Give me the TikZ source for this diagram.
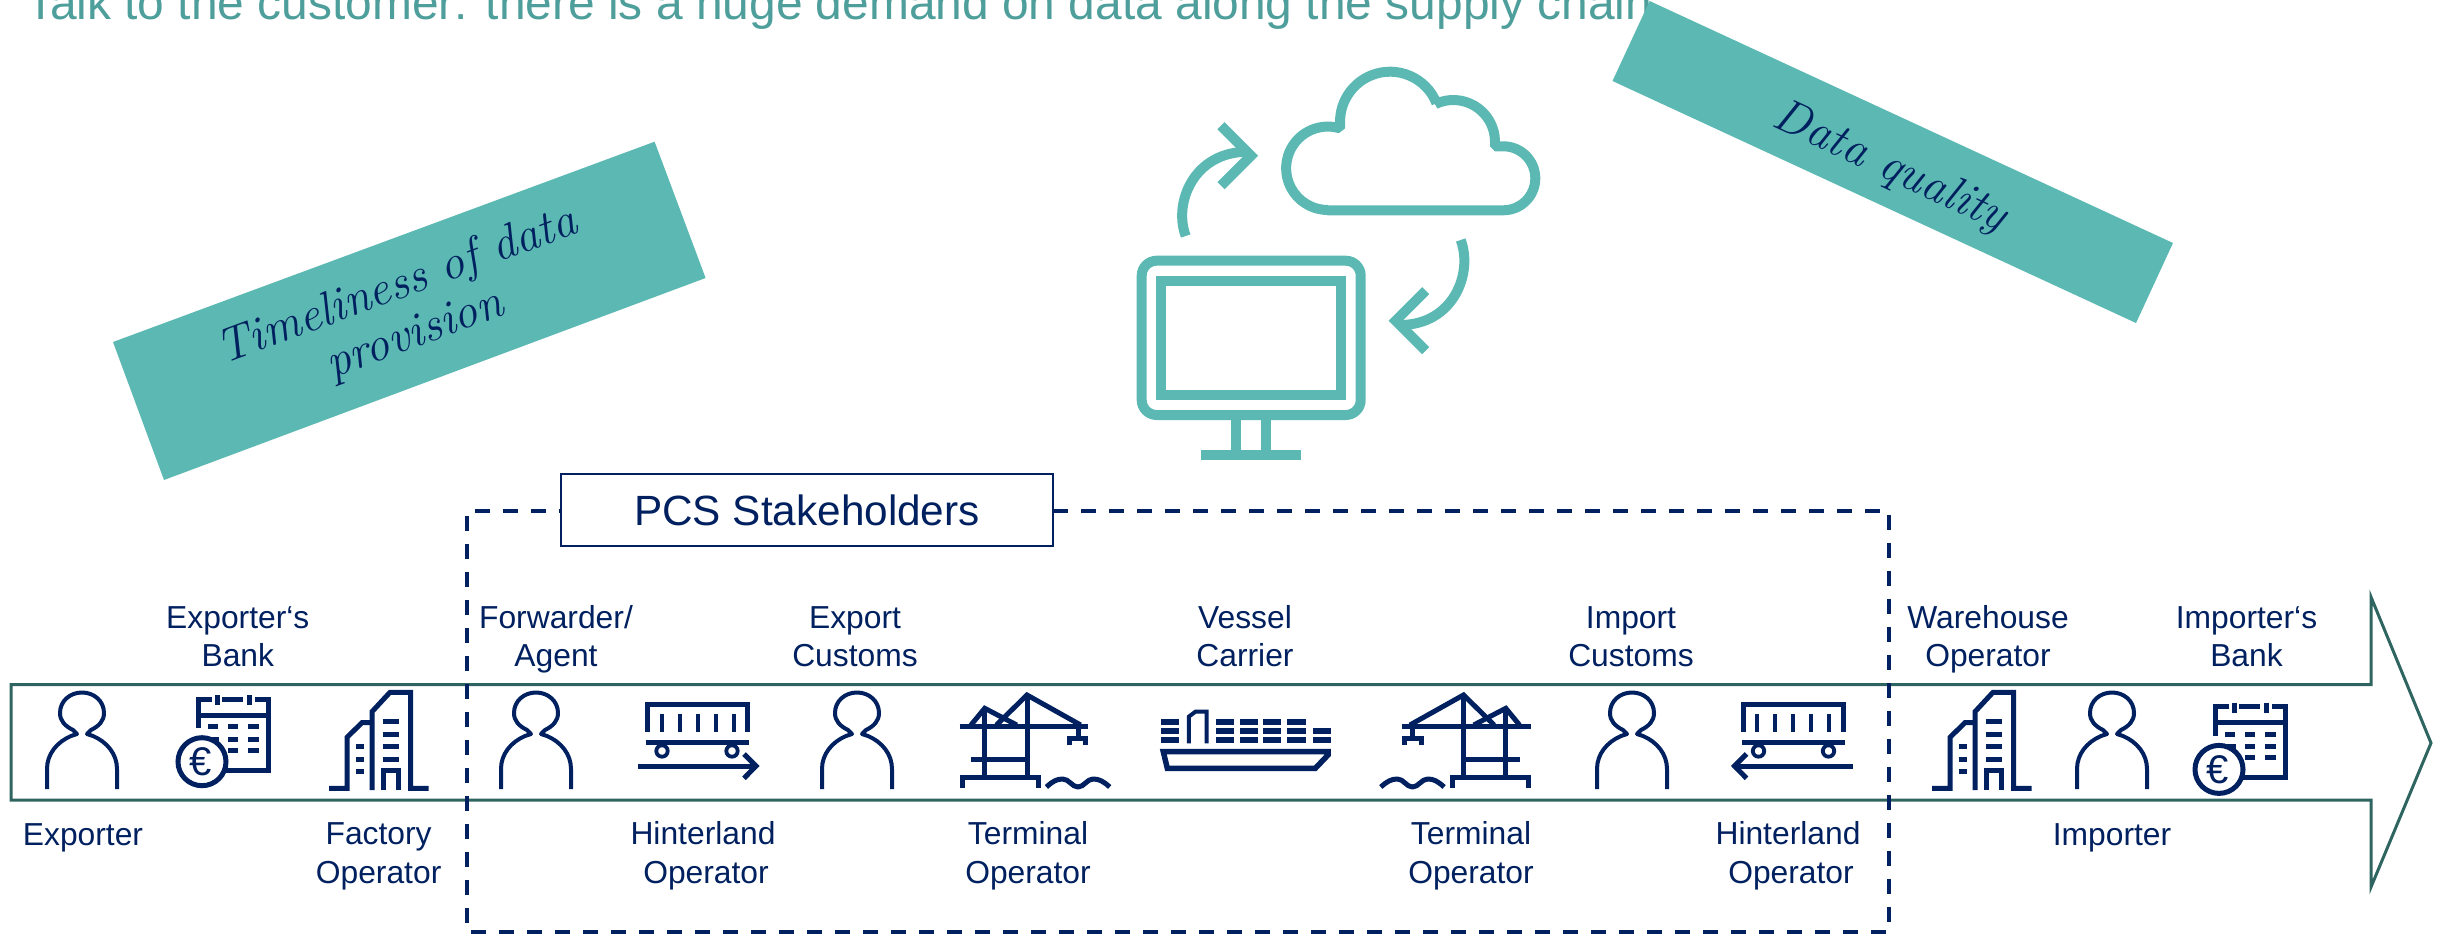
\documentclass[tikz,border=0pt]{standalone}
\usepackage{fontspec}
\setsansfont{Liberation Sans}
\newfontfamily\arialfont{Liberation Sans}
\definecolor{navy}{HTML}{00205F}
\definecolor{teal1}{HTML}{5CB8B2}
\definecolor{titlec}{HTML}{4E9F9B}
\definecolor{chev}{HTML}{2F6560}
\tikzset{
  lab/.style={text=navy,align=center,anchor=base,inner sep=0pt,font=\arialfont\fontsize{31.8}{38.5}\selectfont},
  note/.style={text=navy,align=center,inner sep=0pt,font=\itshape\fontsize{48}{51}\selectfont},
  banner/.style={fill=teal1,draw=none},
  ink/.style={draw=navy,line width=5pt,line cap=butt,line join=miter,fill=none},
  thinink/.style={draw=navy,line width=4pt,line cap=butt,line join=round,fill=none},
  tealink/.style={draw=teal1,line width=10pt,line cap=butt,line join=miter,fill=none},
  pics/person/.style={code={
    \draw[thinink] (-35,97) -- (-35,77) .. controls (-35,62) and (-25,50) .. (-11,44) -- (-5,42) -- (-9,38)
      .. controls (-17,34) and (-22,29) .. (-22,21) .. controls (-22,9) and (-12,0.5) .. (0,0.5)
      .. controls (12,0.5) and (22,9) .. (22,21) .. controls (22,29) and (17,34) .. (9,38)
      -- (5,42) -- (11,44) .. controls (25,50) and (35,62) .. (35,77) -- (35,97);
  }},
  pics/bank/.style={code={
    \draw[ink] (212,699) -- (198,699) -- (198,728);
    \draw[ink] (198,715) -- (268,715);
    \draw[ink] (222,699) -- (243.4,699);
    \draw[ink] (255,699) -- (268,699) -- (268,770) -- (224.5,770);
    \draw[ink] (217,695) -- (217,705);
    \draw[ink] (249,695) -- (249,705);
    \foreach \yy in {726.7,739,750} {
      \draw[ink] (228,\yy) -- (238,\yy);
      \draw[ink] (248,\yy) -- (258.7,\yy);
    }
    \draw[ink] (208,726.7) -- (218,726.7);
    \draw[ink] (208,739) -- (219,739);
    \draw[ink,fill=white] (202,761.7) circle[radius=24];
    \node[inner sep=0pt,text=navy,font=\arialfont\fontsize{40}{40}\selectfont] at (200.5,762) {€};
  }},
  pics/tower/.style={code={
    \draw[ink] (329,788.3) -- (347,788.3) -- (347,737.3) -- (362,722.7) -- (371,722.7);
    \draw[ink] (372,790) -- (372,711.7) -- (390,692.3) -- (410.7,692.3) -- (410.7,788.3) -- (428.6,788.3);
    \draw[ink] (383.7,790) -- (383.7,770.7) -- (398,770.7) -- (398,790);
    \foreach \yy in {721.7,734,746,759} \draw[ink] (382.6,\yy) -- (399,\yy);
    \foreach \yy in {746.7,759,771} \draw[ink] (355.6,\yy) -- (363.8,\yy);
  }},
  pics/wagon/.style={code={
    \draw[ink] (647,731.7) -- (647,704) -- (747.4,704) -- (747.4,731.7);
    \draw[ink] (645.5,742.7) -- (749,742.7);
    \foreach \xx in {662,680,698,716,733.7} \draw[ink,line width=4pt] (\xx,714) -- (\xx,731.7);
    \draw[ink,line width=3.8pt] (662,751) circle[radius=5.7];
    \draw[ink,line width=3.8pt] (732,751) circle[radius=5.7];
    \draw[ink] (637.8,766) -- (755,766);
    \draw[ink] (744,754) -- (756,766) -- (744,778.3);
  }},
  pics/crane/.style={code={
    \draw[ink] (1027,695) -- (1027,777);
    \draw[ink] (984.7,708.3) -- (984.7,777);
    \draw[ink] (959.7,726.7) -- (1088.3,726.7);
    \draw[ink] (971,725) -- (984.7,708.3) -- (1016.8,725);
    \draw[ink] (996.4,725) -- (1027,695) -- (1080.6,725);
    \draw[ink] (971,759) -- (1027,759);
    \draw[ink] (962.2,788.3) -- (962.2,777.3) -- (1038.3,777.3) -- (1038.3,788.3);
    \draw[ink] (1078,727) -- (1078,738);
    \draw[ink] (1069.4,745) -- (1069.4,738.3) -- (1085.7,738.3) -- (1085.7,745);
    \draw[ink,line join=round] (1046.4,787) .. controls (1053,781) and (1057,779) .. (1062.8,779)
      .. controls (1069,779) and (1072,787) .. (1078,787) .. controls (1084,787) and (1087,779) .. (1093,779)
      .. controls (1099,779) and (1103,781) .. (1109.7,787);
  }},
}
\begin{document}
\begin{tikzpicture}[x=1pt,y=-1pt]
\useasboundingbox (0,0) rectangle (2445,934);
\clip (0,0) rectangle (2445,934);
% title
\node[anchor=base west,inner sep=0pt,text=titlec,font=\arialfont\fontsize{47.9}{50}\selectfont] (title) at (26,20)
  {Talk to the customer: there is a huge demand on data along the supply chain};
% banners
\path[banner] (654.6,141.7) -- (705.6,278) -- (164,480) -- (113,342) -- cycle;
\path[banner] (1649.6,1) -- (2173,243) -- (2136,323) -- (1612.5,81) -- cycle;
\node[note,rotate=20.3] (timeliness) at (406,311) {Timeliness of data\\provision};
\node[note,rotate=-24.8] (quality) at (1890,168) {Data quality};
% cloud & monitor
\draw[tealink,line join=bevel] (1327.3,210.3) -- (1503.3,210.3) arc[start angle=90,end angle=-90,radius=32]
  -- (1495,146.3) -- (1495,141.7) arc[start angle=0,end angle=-115,radius=41.7]
  -- (1436.5,103.2) arc[start angle=-21.7,end angle=-180,radius=50]
  -- (1340,128.4) arc[start angle=-73,end angle=-270,radius=41.7] -- cycle;
\draw[tealink,rounded corners=15pt] (1141.7,260.7) rectangle (1360.7,415);
\draw[tealink] (1161,280.7) rectangle (1340.7,395.3);
\draw[tealink] (1236,415) -- (1236,455);
\draw[tealink] (1266,415) -- (1266,455);
\draw[tealink] (1201,455) -- (1301,455);
\draw[tealink] (1185.7,236) .. controls (1173.3,203.3) and (1193.3,151.7) .. (1248,151.7);
\draw[tealink] (1221,125.7) -- (1251,155.7) -- (1221,185.7);
\draw[tealink] (1460.7,240) .. controls (1473.3,273.3) and (1453.3,325) .. (1400,325);
\draw[tealink] (1425.7,290.7) -- (1395.7,320.7) -- (1425.7,350.7);
% chevron
\draw[chev,line width=3pt,line join=miter] (11,684.5) -- (2371,684.5) -- (2371,597) -- (2431,743) -- (2371,887) -- (2371,800) -- (11,800) -- cycle;
% dashed frame
\draw[navy,line width=4pt,dash pattern=on 15pt off 13pt] (1053,511) -- (1889,511) -- (1889,932) -- (467,932) -- (467,511) -- (561,511);
\node[draw=navy,line width=2pt,fill=white,minimum width=492pt,minimum height=72pt,inner sep=0pt,text=navy,
  font=\arialfont\fontsize{42.3}{46}\selectfont] (pcs) at (807,510) {PCS Stakeholders};
% icons
\pic at (82,692) {person};
\pic at (536,692) {person};
\pic at (857,692) {person};
\pic at (1632,692) {person};
\pic at (2112,692) {person};
\pic at (0,0) {bank};
\pic at (2017,7.7) {bank};
\pic at (0,0) {tower};
\pic at (1603,0) {tower};
\pic at (0,0) {wagon};
\pic[xscale=-1] at (2490.5,0) {wagon};
\pic at (0,0) {crane};
\pic[xscale=-1] at (2490.5,0) {crane};
% ship
\draw[ink,line width=5.5pt] (1163.3,751.7) -- (1328,751.7) -- (1328,755) -- (1315.3,768.3) -- (1167.3,768.3) -- cycle;
\draw[ink,line width=4pt] (1188.8,743.3) -- (1188.8,716.7) -- (1195.4,711.7) -- (1206.6,711.7) -- (1206.6,743.3);
\foreach \a/\b in {1160.7/1178.6,1215.8/1233.7,1239.8/1257.7,1263.3/1281.1,1287.2/1306.1} {
  \foreach \yy in {722.3,731,740.3} \fill[navy] (\a,\yy-2.9) rectangle (\b,\yy+2.9);
}
\foreach \yy in {731,740.3} \fill[navy] (1312.8,\yy-2.9) rectangle (1330.6,\yy+2.9);
% labels
\node[lab] (l1) at (237.8,666.7) {Exporter‘s\\Bank};
\node[lab] (l2) at (556,666.7) {Forwarder/\\Agent};
\node[lab] (l3) at (855,666.7) {Export\\Customs};
\node[lab] (l4) at (1245,666.7) {Vessel\\Carrier};
\node[lab] (l5) at (1631,666.7) {Import\\Customs};
\node[lab] (l6) at (1988,666.7) {Warehouse\\Operator};
\node[lab] (l7) at (2246.5,666.7) {Importer‘s\\Bank};
\node[lab] (b1) at (83,845) {Exporter};
\node[lab] (b2) at (378.6,883) {Factory\\Operator};
\node[lab] (b3) at (703,883) {Hinterland\\\hspace{6pt}Operator};
\node[lab] (b4) at (1028,883) {Terminal\\Operator};
\node[lab] (b5) at (1471,883) {Terminal\\Operator};
\node[lab] (b6) at (1788,883) {Hinterland\\\hspace{6pt}Operator};
\node[lab] (b7) at (2112,845) {Importer};
\end{tikzpicture}
\end{document}
